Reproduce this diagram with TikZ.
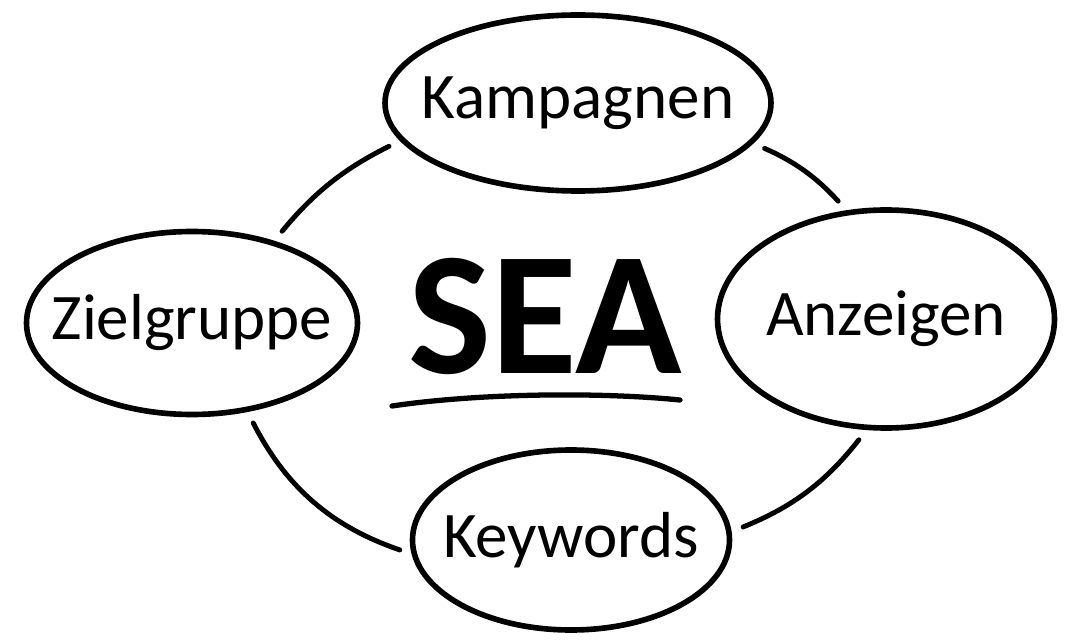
\documentclass[tikz,border=0pt]{standalone}
\usepackage{fontspec}
\setmainfont{Carlito}
\usetikzlibrary{shapes.geometric,positioning}

\tikzset{
  bubble/.style={ellipse, draw, line width=3.2pt, inner sep=0pt,
    label={[font=\fontsize{37}{40}\selectfont]center:#1}},
  link/.style={line width=2.8pt, line cap=round, shorten <=7pt, shorten >=7pt},
}

\begin{document}
\begin{tikzpicture}
\useasboundingbox (0,0) rectangle (21.8,12.84);

\node (sea) at (10.9,6.52) {\fontsize{100}{100}\selectfont\bfseries SEA};
\node[bubble=Kampagnen, minimum width=7.72cm, minimum height=3.52cm] (kamp) at (11.56,10.78) {};
\node[bubble=Anzeigen, minimum width=6.74cm, minimum height=4.36cm] (anz) at (17.72,6.46) {};
\node[bubble=Zielgruppe, minimum width=6.62cm, minimum height=3.66cm] (ziel) at (3.84,6.38) {};
\node[bubble=Keywords, minimum width=6.34cm, minimum height=3.6cm] (keyw) at (11.42,2.04) {};

% underline
\draw[line width=3pt, line cap=round] (7.84,4.72) .. controls (9.6,4.98) and (12.0,5.0) .. (13.6,4.84);

% ring
\draw[link] (kamp.192) to[bend right=12] (ziel.45);
\draw[link] (kamp.-13) to[bend left=12] (anz.110);
\draw[link] (anz.260) to[bend left=15] (keyw.3);
\draw[link] (ziel.-58) to[bend right=22] (keyw.185);
\end{tikzpicture}
\end{document}
